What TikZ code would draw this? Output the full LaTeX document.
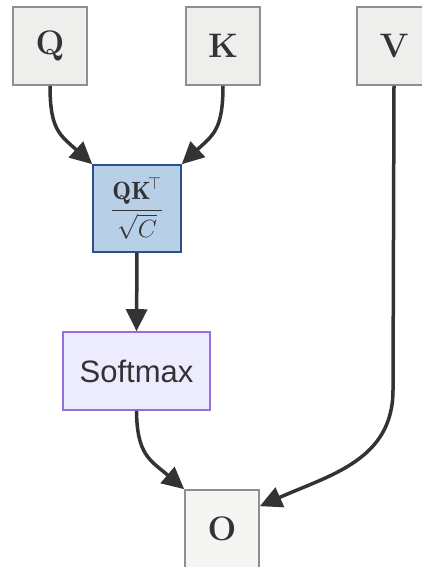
\documentclass[tikz,border=0pt]{standalone}
\usepackage{fontspec}
\usepackage{amsmath}
\newfontfamily\arialfont{Liberation Sans}
\usetikzlibrary{arrows.meta}
\definecolor{graybox}{HTML}{EEEEEC}
\definecolor{grayline}{HTML}{8F8F8F}
\definecolor{bluefill}{HTML}{B8CFE8}
\definecolor{blueline}{HTML}{2B4F8A}
\definecolor{lavfill}{HTML}{ECECFE}
\definecolor{lavline}{HTML}{9370DB}
\definecolor{ofill}{HTML}{F5F5F3}
\definecolor{ink}{HTML}{333333}
\tikzset{
  inbox/.style={draw=grayline, fill=graybox, line width=1.6pt, minimum width=74pt, minimum height=78pt, inner sep=0pt, text=ink, font=\fontsize{34}{40}\selectfont\bfseries},
  conn/.style={draw=ink, line width=3.5pt, -{Triangle[length=22pt,width=21pt]}}
}
\begin{document}
\begin{tikzpicture}[x=1pt,y=-1pt]
\useasboundingbox (0,0) rectangle (421,567);
\node[inbox] (Q) at (50,46) {Q};
\node[inbox] (K) at (223,46) {K};
\node[inbox] (V) at (394,46) {V};
\node[draw=blueline, fill=bluefill, line width=1.6pt, minimum width=88pt, minimum height=87pt, inner sep=0pt, text=ink, font=\fontsize{25}{30}\selectfont] (S) at (137,208.5) {$\dfrac{\mathbf{QK}^{\!\top}}{\sqrt{C}}$};
\node[draw=lavline, fill=lavfill, line width=1.6pt, minimum width=147pt, minimum height=78pt, inner sep=0pt, text=ink, font=\arialfont\fontsize{31}{36}\selectfont] (SM) at (136.5,371) {Softmax};
\node[inbox, fill=ofill] (O) at (222,529) {O};
\draw[conn] (Q.south) .. controls (50,130) and (60,135) .. (S.north west);
\draw[conn] (K.south) .. controls (223,130) and (213,135) .. (S.north east);
\draw[conn] (S.south) -- (SM.north);
\draw[conn] (SM.south) .. controls (137,455) and (150,460) .. (O.north west);
\draw[conn] (V.south) -- (393,390) .. controls (393,460) and (330,475) .. ([yshift=-17pt]O.north east);
\end{tikzpicture}
\end{document}
